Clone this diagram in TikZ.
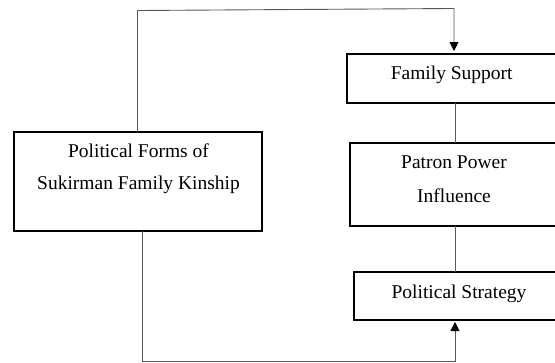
\documentclass[tikz,border=0pt]{standalone}
\usepackage{fontspec}
\setmainfont{Liberation Serif}
\usetikzlibrary{arrows.meta}
\begin{document}
\begin{tikzpicture}[x=1pt,y=-1pt,
  box/.style={draw=black,line width=1.6pt,rectangle,inner sep=0pt,outer sep=0pt},
  openbox/.style={draw=none,rectangle,inner sep=0pt,outer sep=0pt},
  side/.style={draw=black,line width=1.6pt,line join=miter},
  lbl/.style={anchor=base,inner sep=0pt,font=\fontsize{19.5}{22}\selectfont},
  conn/.style={draw=black!65,line width=0.9pt},
  tip/.style={-{Triangle[length=9pt,width=9pt,color=black]}}]
\useasboundingbox[fill=white] (0,0) rectangle (555,362);
% boxes (open on the right, running off the page)
\node[openbox,minimum width=208pt,minimum height=49pt] (fam) at (451,78.5) {};
\node[openbox,minimum width=205pt,minimum height=83.3pt] (pat) at (452.5,184.35) {};
\node[openbox,minimum width=201pt,minimum height=48pt] (str) at (454.5,296) {};
\node[box,minimum width=248pt,minimum height=99pt] (pol) at (138,181.5) {};
\foreach \b in {fam,pat,str}
  \draw[side] (\b.north east) -- (\b.north west) -- (\b.south west) -- (\b.south east);
% texts
\node[lbl] (pol1) at (138.5,157.3) {Political Forms of};
\node[lbl] (pol2) at (138.5,189.3) {Sukirman Family Kinship};
\node[lbl] (fam1) at (451.7,79.3) {Family Support};
\node[lbl] (pat1) at (454,168) {Patron Power};
\node[lbl] (pat2) at (454,202.3) {Influence};
\node[lbl] (str1) at (459,298) {Political Strategy};
% connector corners
\coordinate (tl) at (137.5,10.5);
\coordinate (tr) at (454,8.5);
\coordinate (bl) at (142,361);
\coordinate (br) at (455,361);
\draw[conn,tip,shorten >=3pt] (pol.north -| tl) -- (tl) -- (tr) -- (fam.north -| tr);
\draw[conn,tip,shorten >=2pt] (pol.south -| bl) -- (bl) -- (br) -- (str.south -| br);
\draw[conn] (fam.south -| br) -- (pat.north -| br);
\draw[conn] (pat.south -| br) -- (str.north -| br);
\end{tikzpicture}
\end{document}
